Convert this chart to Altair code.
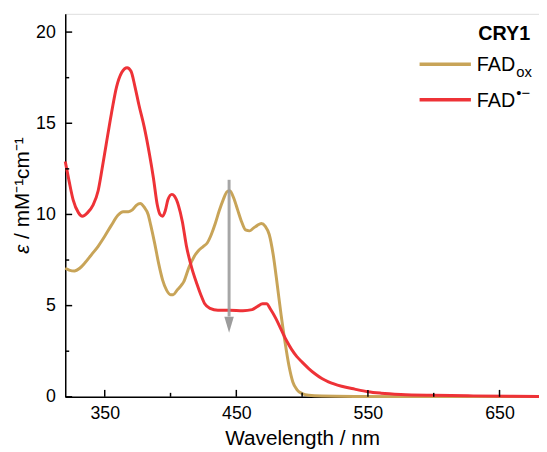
import altair as alt
import pandas as pd

# ---------------- data ----------------
wl_ox = [320, 323, 327, 331, 335, 340, 345, 350, 355, 360, 364, 368, 371, 374, 377,
         380, 383, 385, 388, 391, 394, 397, 400, 402, 405, 408, 410, 414, 418, 421,
         425, 428, 431, 434, 437, 440, 443, 445, 448, 451, 454, 457, 460, 463, 466,
         469, 472, 475, 478, 481, 484, 487, 490, 493, 496, 500, 505, 515, 540, 600, 680]
eps_ox = [7.05, 6.95, 6.9, 7.05, 7.35, 7.8, 8.25, 8.8, 9.4, 9.95, 10.15, 10.15, 10.25, 10.5, 10.6,
          10.4, 10.0, 9.4, 8.4, 7.3, 6.4, 5.85, 5.6, 5.6, 5.85, 6.1, 6.3, 7.1, 7.7, 8.0,
          8.25, 8.45, 8.9, 9.5, 10.2, 10.8, 11.25, 11.3, 10.9, 10.25, 9.6, 9.15, 9.1, 9.25, 9.4,
          9.5, 9.35, 8.9, 7.8, 6.2, 4.5, 3.0, 1.7, 0.8, 0.4, 0.18, 0.08, 0.04, 0.02, 0.01, 0.01]

wl_rad = [320, 323, 326, 330, 333, 337, 341, 345, 348, 351, 355, 359, 363, 367, 370,
          373, 376, 380, 384, 387, 390, 392, 394, 396, 398, 401, 403, 406, 409, 412,
          416, 420, 423, 426, 430, 436, 445, 455, 462, 466, 470, 473, 476, 480, 484,
          488, 492, 496, 500, 505, 510, 515, 520, 530, 540, 550, 560, 575, 600, 630, 660, 680]
eps_rad = [12.9, 11.8, 10.8, 10.1, 9.9, 10.1, 10.5, 11.3, 12.5, 13.8, 15.5, 17.0, 17.8, 18.05, 17.85,
           17.0, 16.0, 14.8, 13.3, 12.0, 10.5, 10.0, 9.9, 10.2, 10.8, 11.1, 11.0, 10.5, 9.6, 8.3,
           7.1, 6.2, 5.6, 5.1, 4.85, 4.75, 4.75, 4.72, 4.78, 4.95, 5.1, 5.1, 4.8, 4.3, 3.7,
           3.1, 2.6, 2.2, 1.9, 1.55, 1.25, 1.0, 0.82, 0.58, 0.42, 0.28, 0.2, 0.13, 0.08, 0.05, 0.03, 0.02]

x_major = [350, 450, 550, 650]
x_minor = [400, 500, 600]
y_major = [0, 5, 10, 15, 20]
y_minor = [2.5, 7.5, 12.5, 17.5]

arrow_wl = [444.5]
arrow_top = [11.9]
arrow_bottom = [4.4]
arrow_head = [3.95]

series_names = ["FAD", "FAD"]
series_marks = ["ox", "•−"]
legend_title = "CRY1"
y_title_symbol = "ε"
y_title_units = "/ mM⁻¹cm⁻¹"

GOLD = "#C8A458"
RED = "#EE3237"
GRAY = "#9C9C9C"
FONT = "Liberation Sans"

df_ox = pd.DataFrame({"wl": wl_ox, "eps": eps_ox})
df_rad = pd.DataFrame({"wl": wl_rad, "eps": eps_rad})

xscale = alt.Scale(domain=[320, 680], nice=False, zero=False)
yscale = alt.Scale(domain=[0, 21], nice=False, zero=True)

x_axis = alt.Axis(title="Wavelength / nm", values=x_major, ticks=False, tickSize=0,
                  labelPadding=8, labelFontSize=18, titleFontSize=21, titlePadding=5,
                  labelFont=FONT, titleFont=FONT, titleFontWeight="normal",
                  domainColor="black", domainWidth=1.5, grid=False, labelColor="black",
                  titleColor="black")
y_axis = alt.Axis(title="", values=y_major, ticks=False, tickSize=0,
                  labelPadding=10, labelFontSize=18,
                  labelFont=FONT, domainColor="black", domainWidth=1.5, grid=False,
                  labelColor="black")

X = lambda f: alt.X(f, scale=xscale, axis=x_axis)
Y = lambda f: alt.Y(f, scale=yscale, axis=y_axis)

line_ox = alt.Chart(df_ox).mark_line(color=GOLD, strokeWidth=3, interpolate="monotone").encode(
    x=X("wl:Q"), y=Y("eps:Q"))
line_rad = alt.Chart(df_rad).mark_line(color=RED, strokeWidth=3, interpolate="monotone").encode(
    x=X("wl:Q"), y=Y("eps:Q"))


def xticks(vals, length):
    return alt.Chart(pd.DataFrame({"wl": vals})).mark_rule(color="black", strokeWidth=1.5).encode(
        x=X("wl:Q"), y=alt.value(388), y2=alt.value(388 - length))


def yticks(vals, length):
    return alt.Chart(pd.DataFrame({"eps": vals})).mark_rule(color="black", strokeWidth=1.5).encode(
        y=Y("eps:Q"), x=alt.value(0), x2=alt.value(length))


df_arrow = pd.DataFrame({"wl": arrow_wl, "top": arrow_top, "bottom": arrow_bottom, "head": arrow_head})
arrow_shaft = alt.Chart(df_arrow).mark_rule(color=GRAY, strokeWidth=3, opacity=0.9).encode(
    x=X("wl:Q"), y=Y("top:Q"), y2="bottom:Q")
arrow_tip = alt.Chart(df_arrow).mark_point(shape="M-0.6,-1L0.6,-1L0,1Z", filled=True, size=256,
                                           color=GRAY, opacity=1).encode(
    x=X("wl:Q"), y=Y("head:Q"))


def label(txt, x, y, size, weight="normal", align="left", style="normal", angle=0):
    return alt.Chart(pd.DataFrame({"t": [txt]})).mark_text(
        font=FONT, fontSize=size, fontWeight=weight, fontStyle=style, align=align,
        baseline="alphabetic", angle=angle, color="black").encode(
        text="t:N", x=alt.value(x), y=alt.value(y))


def legend_line(color, y):
    return alt.Chart(pd.DataFrame({"t": [0]})).mark_rule(color=color, strokeWidth=3.5).encode(
        x=alt.value(359), x2=alt.value(411), y=alt.value(y))


layers = [
    line_ox, line_rad,
    xticks(x_major, 7), xticks(x_minor, 4), yticks(y_major, 7), yticks(y_minor, 4),
    arrow_shaft, arrow_tip,
    label(y_title_symbol, -37, 243, 21, style="italic", angle=270),
    label(y_title_units, -37, 228, 21, angle=270),
    label(legend_title, 471, 27, 20, weight="bold", align="right"),
    legend_line(GOLD, 51), label(series_names[0], 417, 58, 20), label(series_marks[0], 457, 64, 15),
    legend_line(RED, 87), label(series_names[1], 417, 94, 20), label(series_marks[1], 457, 85, 15),
]

chart = alt.layer(*layers).properties(
    width=480, height=388,
    padding={"left": 58, "top": 3, "right": 0, "bottom": 53},
    autosize=alt.AutoSizeParams(type="none"),
).configure_view(stroke="black", strokeWidth=1.5).configure(background="white")

chart.save("out.html", embed_options={"renderer": "svg", "actions": False})
